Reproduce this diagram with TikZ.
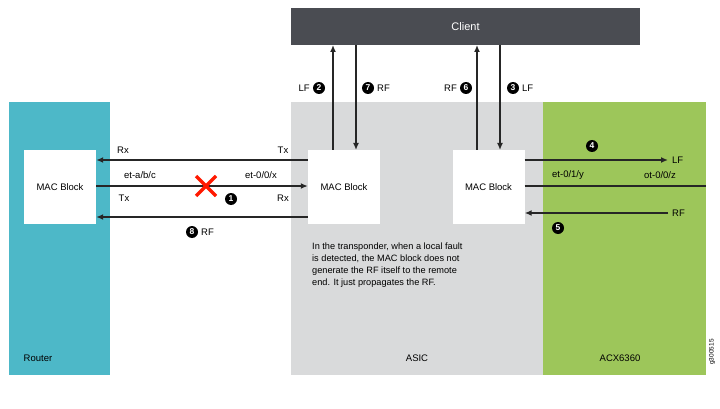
\documentclass[tikz,border=0pt]{standalone}
\usepackage{fontspec}
\setmainfont{Liberation Sans}
\usetikzlibrary{arrows.meta,calc}
\begin{document}
\begin{tikzpicture}[x=1pt,y=-1pt,font=\fontsize{9.5}{11}\selectfont,
 mac/.style={fill=white,draw=none,minimum width=72pt,minimum height=74pt,inner sep=0},
 num/.style={circle,fill=black,text=white,inner sep=0,minimum size=12pt,font=\fontsize{8.5}{9}\selectfont\bfseries},
 lab/.style={inner sep=1pt},
 arr/.style={-{Latex[length=7pt,width=6pt]},line width=1.4pt,black!85}]
\useasboundingbox (0,0) rectangle (720,409);
\fill[white] (0,0) rectangle (720,409);
\definecolor{teal}{HTML}{4DB8C8}\definecolor{gr}{HTML}{D9DADB}\definecolor{grn}{HTML}{9DC65A}\definecolor{cl}{HTML}{4A4C52}
\fill[teal] (9,102) rectangle (110,375);
\fill[gr] (291,102) rectangle (543,375);
\fill[grn] (543,102) rectangle (706,375);
\node[fill=cl,minimum width=349pt,minimum height=37pt,inner sep=0,text=white,font=\fontsize{11}{12}\selectfont] (client) at (465.5,26.5) {Client};
\node (router) at (38,358) {Router};
\node (asic) at (417,358) {ASIC};
\node (acx) at (620,358) {ACX6360};
\node[mac] (m1) at (60,187) {MAC Block};
\node[mac] (m2) at (344,187) {MAC Block};
\node[mac] (m3) at (488.5,187) {MAC Block};
\draw[arr] (m2.west|-0,160) -- (m1.east|-0,160);
\draw[arr] (m1.east|-0,186) -- (m2.west|-0,186);
\draw[arr] (m2.west|-0,217) -- (m1.east|-0,217);
\node[lab] (rx1) at (123,150) {Rx};
\node[lab] (tx1) at (283,150) {Tx};
\node[lab] (e1) at (140,175) {et-a/b/c};
\node[lab] (e2) at (261,175) {et-0/0/x};
\node[lab] (tx2) at (124,198) {Tx};
\node[lab] (rx2) at (283,198) {Rx};
\coordinate (x) at (206,186);
\draw[red!80!orange,line width=3.5pt] ($(x)+(-10,-10)$) -- ($(x)+(10,10)$) ($(x)+(-10,10)$) -- ($(x)+(10,-10)$);
\node[num] (n1) at (231,199) {1};
\node[num] (n8) at (192,232) {8}; \node[lab,anchor=west] (rf8) at (200,232) {RF};
\draw[arr] (333,150) -- (333,45);
\draw[arr] (356,45) -- (356,150);
\draw[arr] (477,150) -- (477,45);
\draw[arr] (500,45) -- (500,150);
\node[lab,anchor=east] (lf2) at (311,88) {LF}; \node[num] (n2) at (319,88) {2};
\node[num] (n7) at (368,88) {7}; \node[lab,anchor=west] (rf7) at (376,88) {RF};
\node[lab,anchor=east] (rf6) at (458,88) {RF}; \node[num] (n6) at (466,88) {6};
\node[num] (n3) at (513,88) {3}; \node[lab,anchor=west] (lf3) at (521,88) {LF};
\coordinate (c4) at (668,160);
\draw[arr] (m3.east|-c4) -- (c4);
\node[lab,anchor=west] (lf4) at (671,160) {LF};
\node[num] (n4) at (592,146) {4};
\coordinate (c5) at (706,186);
\draw[line width=1.4pt,black!85] (m3.east|-c5) -- (c5);
\node[lab] (e3) at (568,175) {et-0/1/y};
\node[lab] (e4) at (660,175) {ot-0/0/z};
\coordinate (c6) at (668,213);
\draw[arr] (c6) -- (m3.east|-c6);
\node[lab,anchor=west] (rf5) at (671,213) {RF};
\node[num] (n5) at (558,228) {5};
\node[anchor=north west,align=left,inner sep=0,font=\fontsize{9.2}{12}\selectfont] (txt) at (312,243) {In the transponder, when a local fault\\is detected, the MAC block does not\\generate the RF itself to the remote\\end. It just propagates the RF.};
\node[rotate=90,font=\fontsize{6.5}{7}\selectfont] (g) at (712,352) {g300515};
\end{tikzpicture}
\end{document}
